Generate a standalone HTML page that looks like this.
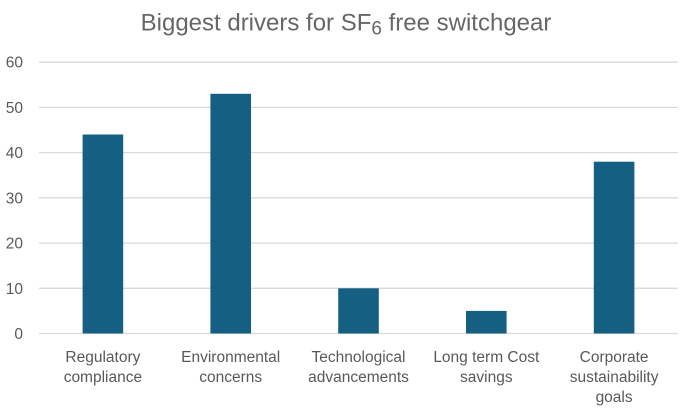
<!DOCTYPE html>
<html>
<head>
<meta charset="utf-8">
<style>
  html, body { margin: 0; padding: 0; background: #ffffff; }
  svg { display: block; }
  text { font-family: "Liberation Sans", sans-serif; }
</style>
</head>
<body>
<svg width="693" height="416" viewBox="0 0 693 416" xmlns="http://www.w3.org/2000/svg">
  <rect x="0" y="0" width="693" height="416" fill="#ffffff"/>

  <!-- Title -->
  <text x="346" y="30.5" text-anchor="middle" font-size="24" fill="#666666">Biggest drivers for SF<tspan font-size="19" dy="4">6</tspan><tspan dy="-4"> free switchgear</tspan></text>

  <!-- Gridlines -->
  <g stroke="#d9d9d9" stroke-width="1.3">
    <line x1="39" y1="62.2" x2="678" y2="62.2"/>
    <line x1="39" y1="107.4" x2="678" y2="107.4"/>
    <line x1="39" y1="152.6" x2="678" y2="152.6"/>
    <line x1="39" y1="197.8" x2="678" y2="197.8"/>
    <line x1="39" y1="243.1" x2="678" y2="243.1"/>
    <line x1="39" y1="288.3" x2="678" y2="288.3"/>
    <line x1="39" y1="333.5" x2="678" y2="333.5"/>
  </g>

  <!-- Y labels -->
  <g font-size="15.5" fill="#595959" text-anchor="end">
    <text x="23" y="67.7">60</text>
    <text x="23" y="112.9">50</text>
    <text x="23" y="158.1">40</text>
    <text x="23" y="203.3">30</text>
    <text x="23" y="248.6">20</text>
    <text x="23" y="293.8">10</text>
    <text x="23" y="339">0</text>
  </g>

  <!-- Bars -->
  <g fill="#156082">
    <rect x="82.6" y="134.5" width="40.6" height="199"/>
    <rect x="210.4" y="93.8" width="40.6" height="239.7"/>
    <rect x="338.2" y="288.3" width="40.6" height="45.2"/>
    <rect x="466" y="310.9" width="40.6" height="22.6"/>
    <rect x="593.8" y="161.7" width="40.6" height="171.8"/>
  </g>

  <!-- X labels -->
  <g font-size="15.5" fill="#595959" text-anchor="middle">
    <text x="102.9" y="362">Regulatory</text>
    <text x="102.9" y="382">compliance</text>
    <text x="230.7" y="362">Environmental</text>
    <text x="230.7" y="382">concerns</text>
    <text x="358.5" y="362">Technological</text>
    <text x="358.5" y="382">advancements</text>
    <text x="486.3" y="362">Long term Cost</text>
    <text x="486.3" y="382">savings</text>
    <text x="614.1" y="362">Corporate</text>
    <text x="614.1" y="382">sustainability</text>
    <text x="614.1" y="402">goals</text>
  </g>
</svg>
</body>
</html>
